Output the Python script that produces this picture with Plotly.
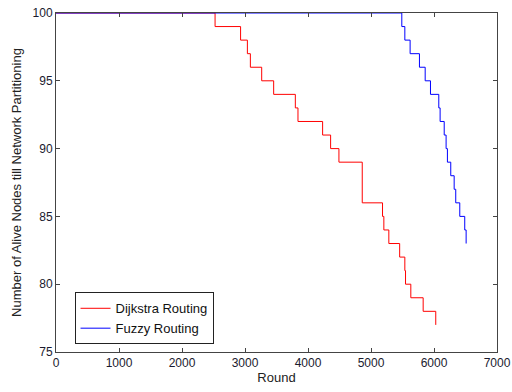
import plotly.graph_objects as go

# Step-wise alive node counts per routing scheme (value becomes y at round x)
dijkstra_rounds = [0, 2525, 2930, 3038, 3085, 3265, 3455, 3799, 3841, 4232, 4359,
                   4491, 4861, 5183, 5204, 5283, 5455, 5537, 5548, 5632, 5828, 6028]
dijkstra_alive = [100, 99, 98, 97, 96, 95, 94, 93, 92, 91, 90,
                  89, 86, 85, 84, 83, 82, 81, 80, 79, 78, 77]

fuzzy_rounds = [0, 5489, 5537, 5621, 5769, 5860, 5944, 6076, 6097, 6162,
                6192, 6213, 6266, 6320, 6345, 6409, 6488, 6510]
fuzzy_alive = [100, 99, 98, 97, 96, 95, 94, 93, 92, 91,
               90, 89, 88, 87, 86, 85, 84, 83]

x_ticks = [0, 1000, 2000, 3000, 4000, 5000, 6000, 7000]
y_ticks = [75, 80, 85, 90, 95, 100]

font_family = "Liberation Sans, Arial, sans-serif"

fig = go.Figure()
fig.add_trace(go.Scatter(
    x=dijkstra_rounds, y=dijkstra_alive, mode="lines", line_shape="hv",
    name="Dijkstra Routing", line=dict(color="#ff0000", width=1),
))
fig.add_trace(go.Scatter(
    x=fuzzy_rounds, y=fuzzy_alive, mode="lines", line_shape="hv",
    name="Fuzzy Routing", line=dict(color="#0000ff", width=1),
))

axis_common = dict(
    showgrid=False, zeroline=False, showline=True, linecolor="#444444",
    linewidth=1, mirror="ticks", ticks="inside", ticklen=4, tickcolor="#444444",
    tickfont=dict(family=font_family, size=12, color="#1a1a2e"),
    automargin=False,
)

fig.update_xaxes(range=[0, 7000], tickvals=x_ticks,
                 title=dict(text="Round", standoff=2,
                            font=dict(family=font_family, size=13, color="#222222")),
                 **axis_common)
fig.update_yaxes(range=[75, 100], tickvals=y_ticks,
                 title=dict(text="Number of Alive Nodes till Network Partitioning", standoff=8,
                            font=dict(family=font_family, size=13, color="#222222")),
                 **axis_common)

fig.update_layout(
    width=512, height=392,
    margin=dict(l=56, r=15, t=13, b=40),
    paper_bgcolor="white", plot_bgcolor="white",
    showlegend=True,
    legend=dict(
        x=0.042, y=0.176, xanchor="left", yanchor="top",
        bordercolor="#222222", borderwidth=1, bgcolor="white",
        font=dict(family=font_family, size=13, color="#111111"),
        tracegroupgap=0,
    ),
)

fig.write_html("out.html")
